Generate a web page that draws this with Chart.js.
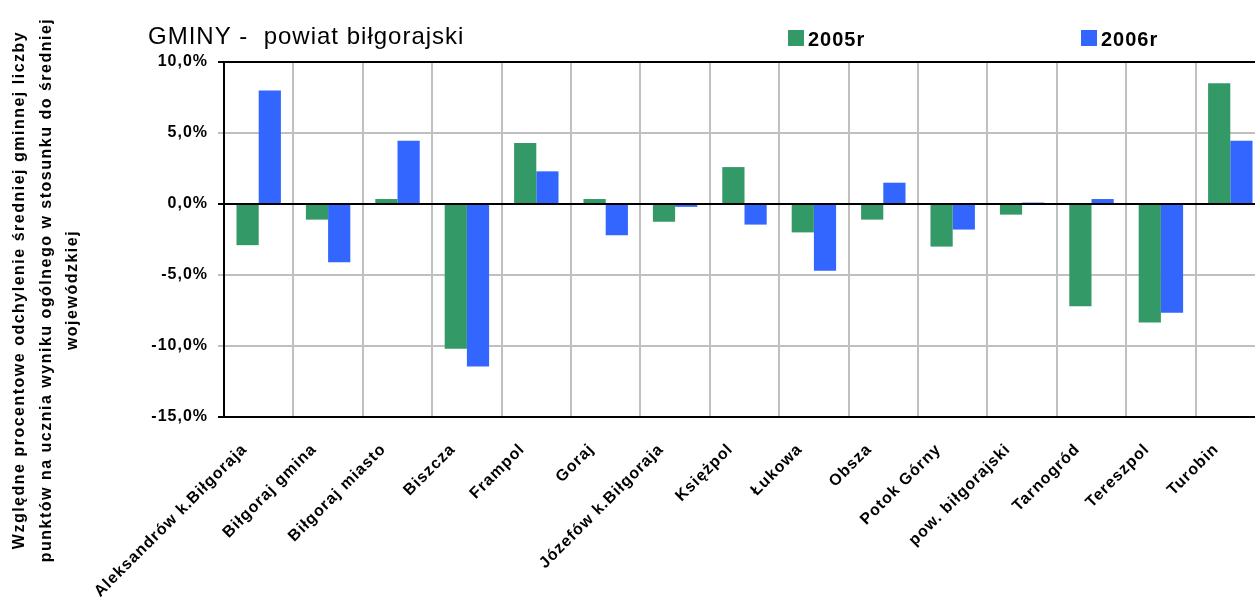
<!DOCTYPE html>
<html>
<head>
<meta charset="utf-8">
<title>GMINY - powiat biłgorajski</title>
<script src="https://cdn.jsdelivr.net/npm/chart.js@4/dist/chart.umd.min.js"></script>
<style>
  html, body { margin: 0; padding: 0; background: #fff; overflow: hidden; }
  #chart { display: block; }
</style>
</head>
<body>
<canvas id="chart" width="1275" height="599"></canvas>
<script>
// gminy (categories)
const gminy = [
  'Aleksandrów k.Biłgoraja', 'Biłgoraj gmina', 'Biłgoraj miasto', 'Biszcza', 'Frampol',
  'Goraj', 'Józefów k.Biłgoraja', 'Księżpol', 'Łukowa', 'Obsza',
  'Potok Górny', 'pow. biłgorajski', 'Tarnogród', 'Tereszpol', 'Turobin'
];
// relative deviation from the voivodeship average, in %
const values2005 = [-2.9, -1.1, 0.35, -10.2, 4.3, 0.35, -1.25, 2.6, -2.0, -1.1, -3.0, -0.75, -7.2, -8.35, 8.5];
const values2006 = [8.0, -4.1, 4.45, -11.45, 2.3, -2.2, -0.2, -1.45, -4.7, 1.5, -1.8, 0.1, 0.35, -7.65, 4.45];
const seriesNames = ['2005r', '2006r'];
const yMin = -15;
const yMax = 10;
const yStep = 5;

const chartTitle = 'GMINY -  powiat biłgorajski';
const yTitleLines = [
  'Względne procentowe odchylenie średniej gminnej liczby',
  'punktów na ucznia wyniku ogólnego w stosunku do średniej',
  'wojewódzkiej'
];

Chart.defaults.font.family = '"Liberation Sans", Arial, sans-serif';
Chart.defaults.color = '#000';

// title, legend and y axis title are drawn by hand (positions like the original sheet)
const headerPlugin = {
  id: 'header',
  beforeDraw(chart) {
    chart.ctx.letterSpacing = '1px'; // widen tick labels a bit
  },
  afterDraw(chart) {
    const ctx = chart.ctx;
    ctx.save();
    ctx.fillStyle = '#000';
    ctx.textAlign = 'left';
    ctx.textBaseline = 'alphabetic';
    ctx.letterSpacing = '1px';
    ctx.font = '24px "Liberation Sans", Arial, sans-serif';
    ctx.fillText(chartTitle, 148, 44);

    const legendX = [788, 1081];
    ctx.font = 'bold 20px "Liberation Sans", Arial, sans-serif';
    chart.data.datasets.forEach((ds, i) => {
      ctx.fillStyle = ds.backgroundColor;
      ctx.fillRect(legendX[i], 30, 16, 16);
      ctx.fillStyle = '#000';
      ctx.fillText(ds.label, legendX[i] + 20, 46);
    });

    ctx.font = 'bold 16px "Liberation Sans", Arial, sans-serif';
    ctx.letterSpacing = '1.5px';
    ctx.textAlign = 'center';
    ctx.textBaseline = 'middle';
    yTitleLines.forEach((line, i) => {
      ctx.save();
      ctx.translate(20 + i * 26.5, 290);
      ctx.rotate(-Math.PI / 2);
      ctx.fillText(line, 0, 0);
      ctx.restore();
    });
    ctx.restore();
  }
};

const ctx = document.getElementById('chart').getContext('2d');
new Chart(ctx, {
  type: 'bar',
  data: {
    labels: gminy,
    datasets: [{
      label: seriesNames[0],
      data: values2005,
      backgroundColor: '#339966',
      borderWidth: 0
    }, {
      label: seriesNames[1],
      data: values2006,
      backgroundColor: '#3366FF',
      borderWidth: 0
    }]
  },
  options: {
    responsive: false,
    animation: false,
    devicePixelRatio: 1,
    layout: {
      padding: { top: 62, right: 10, left: 0, bottom: 0 }
    },
    datasets: {
      bar: {
        categoryPercentage: 0.64,
        barPercentage: 1.0
      }
    },
    plugins: {
      legend: { display: false },
      title: { display: false },
      tooltip: { enabled: false }
    },
    scales: {
      x: {
        afterFit(scale) { scale.height = 182; },
        grid: {
          offset: true,
          color: '#c0c0c0',
          lineWidth: 2,
          drawTicks: false
        },
        border: {
          color: '#000',
          width: 2
        },
        ticks: {
          autoSkip: false,
          minRotation: 45,
          maxRotation: 45,
          padding: 23,
          labelOffset: -14,
          color: '#000',
          font: { size: 16, weight: 'bold' }
        }
      },
      y: {
        min: yMin,
        max: yMax,
        afterFit(scale) { scale.width = 224; },
        grid: {
          color: (c) => (c.tick && (c.tick.value === 0 || c.tick.value === yMax || c.tick.value === yMin)) ? '#000' : '#c0c0c0',
          lineWidth: 2,
          tickLength: 6
        },
        border: {
          color: '#000',
          width: 2
        },
        ticks: {
          stepSize: yStep,
          padding: 10,
          color: '#000',
          font: { size: 16, weight: 'bold' },
          callback: (v) => v.toFixed(1).replace('.', ',') + '%'
        }
      }
    }
  },
  plugins: [headerPlugin]
});
</script>
</body>
</html>
